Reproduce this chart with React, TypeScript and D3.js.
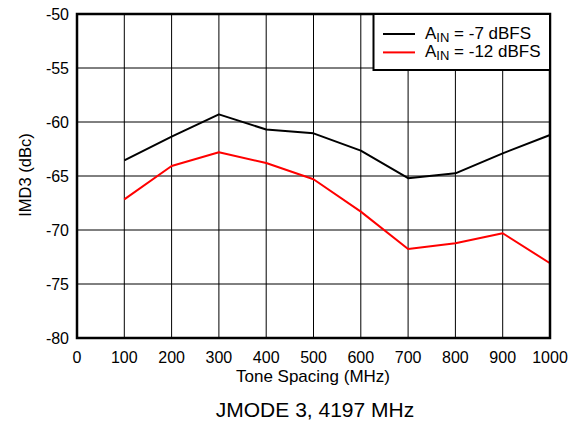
import React from "react";
import * as d3 from "d3";

const toneSpacing = [100, 200, 300, 400, 500, 600, 700, 800, 900, 1000];
const imdMinus7 = [-63.55, -61.36, -59.29, -60.7, -61.05, -62.65, -65.2, -64.75, -62.9, -61.2];
const imdMinus12 = [-67.16, -64.07, -62.8, -63.8, -65.3, -68.3, -71.76, -71.23, -70.3, -73.08];
const xTicks = [0, 100, 200, 300, 400, 500, 600, 700, 800, 900, 1000];
const yTicks = [-50, -55, -60, -65, -70, -75, -80];

const W = 579, H = 422;
const L = 77, R = 550, T = 14, B = 338;
const font = "'Liberation Sans', Arial, sans-serif";

export default function App() {
  const x = d3.scaleLinear().domain([0, 1000]).range([L, R]);
  const y = d3.scaleLinear().domain([-80, -50]).range([B, T]);
  const line = d3.line<number>().x((_, i) => x(toneSpacing[i])).y((d) => y(d));
  const series = [
    { vals: imdMinus7, color: "#000000", label: "-7 dBFS" },
    { vals: imdMinus12, color: "#ff0000", label: "-12 dBFS" },
  ];
  return (
    <svg width={W} height={H} style={{ position: "absolute", left: 0, top: 0 }}>
      <rect x={0} y={0} width={W} height={H} fill="#fff" />
      {xTicks.slice(1, -1).map((t) => (
        <line key={"gx" + t} x1={x(t)} x2={x(t)} y1={T} y2={B} stroke="#000" strokeWidth={1} />
      ))}
      {yTicks.slice(1, -1).map((t) => (
        <line key={"gy" + t} x1={L} x2={R} y1={y(t)} y2={y(t)} stroke="#000" strokeWidth={1} />
      ))}
      {series.map((s, i) => (
        <path key={i} d={line(s.vals) || ""} fill="none" stroke={s.color} strokeWidth={2} strokeLinejoin="round" />
      ))}
      <rect x={L} y={T} width={R - L} height={B - T} fill="none" stroke="#000" strokeWidth={2.5} />
      {/* legend */}
      <rect x={373.5} y={T} width={R - 373.5} height={56} fill="#fff" stroke="#000" strokeWidth={2} />
      {series.map((s, i) => (
        <g key={"lg" + i}>
          <line x1={383} x2={415} y1={34 + i * 18.4} y2={34 + i * 18.4} stroke={s.color} strokeWidth={2} />
          <text x={425} y={38.5 + i * 18.4} fontFamily={font} fontSize={17} fill="#000">
            A<tspan fontSize={13} dy={3}>IN</tspan>
            <tspan dy={-3}>{" = " + s.label}</tspan>
          </text>
        </g>
      ))}
      {yTicks.map((t) => (
        <text key={"yt" + t} x={69} y={y(t) + 6} textAnchor="end" fontFamily={font} fontSize={16} fill="#000">
          {t}
        </text>
      ))}
      {xTicks.map((t) => (
        <text key={"xt" + t} x={x(t)} y={363} textAnchor="middle" fontFamily={font} fontSize={16} fill="#000">
          {t}
        </text>
      ))}
      <text x={(L + R) / 2 - 0.5} y={382} textAnchor="middle" fontFamily={font} fontSize={17} fill="#000">
        Tone Spacing (MHz)
      </text>
      <text transform={`translate(31,${(T + B) / 2 - 1}) rotate(-90)`} textAnchor="middle" fontFamily={font} fontSize={16.5} fill="#000">
        IMD3 (dBc)
      </text>
      <text x={315} y={417} textAnchor="middle" fontFamily={font} fontSize={21} fill="#000">
        JMODE 3, 4197 MHz
      </text>
    </svg>
  );
}
